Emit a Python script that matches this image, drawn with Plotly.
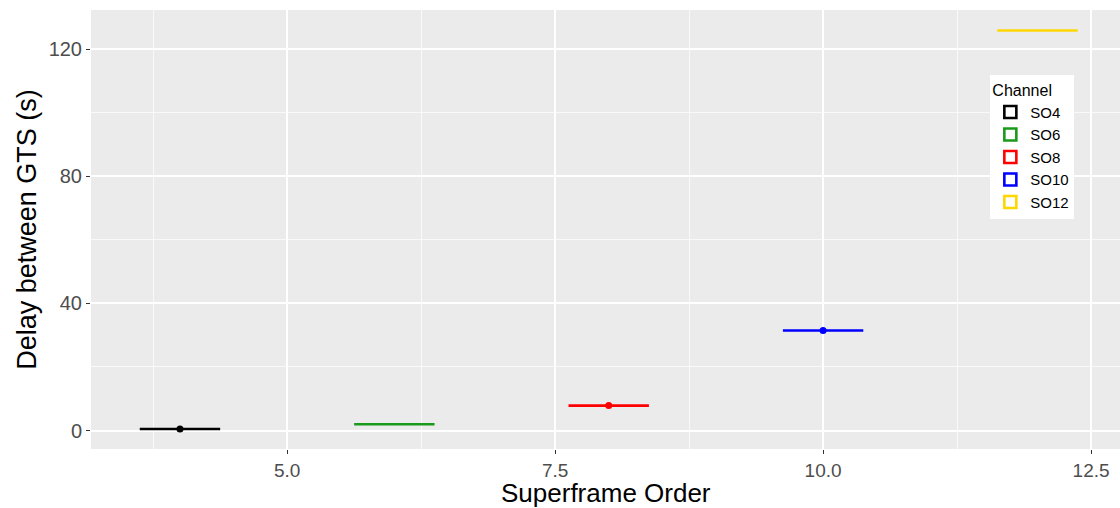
import plotly.graph_objects as go

channels = ["SO4", "SO6", "SO8", "SO10", "SO12"]
orders = [4, 6, 8, 10, 12]
delays = [0.49, 1.97, 7.86, 31.46, 125.83]
colors = ["#000000", "#1A9A1A", "#FF0000", "#0000FF", "#FFD700"]
point_orders = [4, 8, 10]
point_delays = [0.49, 7.86, 31.46]
point_colors = ["#000000", "#FF0000", "#0000FF"]

fig = go.Figure()
for ch, x, v, c in zip(channels, orders, delays, colors):
    fig.add_trace(go.Box(
        name=ch, x=[x], q1=[v], median=[v], q3=[v],
        lowerfence=[v], upperfence=[v], width=0.75,
        line=dict(color=c, width=2.6), fillcolor="rgba(255,255,255,0)",
        boxpoints=False, showlegend=True,
    ))

fig.add_trace(go.Scatter(
    x=point_orders, y=point_delays, mode="markers",
    marker=dict(color=point_colors, size=7), showlegend=False,
    hoverinfo="skip",
))

fig.update_layout(
    width=1120, height=508,
    margin=dict(l=91, r=0, t=10, b=59),
    paper_bgcolor="white", plot_bgcolor="#EBEBEB",
    font=dict(family="Liberation Sans, Arial, sans-serif", color="#000000"),
    showlegend=True,
    legend=dict(
        title=dict(text="Channel", font=dict(size=16, color="#000000")),
        font=dict(size=15, color="#000000"),
        bgcolor="white", x=0.874, y=0.852, xanchor="left", yanchor="top",
        tracegroupgap=0, itemwidth=30,
    ),
    boxmode="overlay",
    annotations=[dict(
        text="Superframe Order", xref="paper", yref="paper", x=0.5, y=0,
        xanchor="center", yanchor="middle", yshift=-44, showarrow=False,
        font=dict(size=26, color="#000000"),
    )],
)
fig.update_xaxes(
    range=[3.17, 12.77], tick0=0, dtick=2.5, tickformat=".1f",
    showgrid=True, gridcolor="white", gridwidth=1.6, zeroline=False,
    minor=dict(showgrid=True, gridcolor="rgba(255,255,255,0.7)", gridwidth=0.7, dtick=1.25, tick0=0),
    ticks="outside", ticklen=4, tickcolor="#333333", tickwidth=1,
    tickfont=dict(size=19, color="#4D4D4D"), ticklabeloverflow="allow",
    showline=False, automargin=False,
)
fig.update_yaxes(
    range=[-5.8, 132.3], tick0=0, dtick=40,
    showgrid=True, gridcolor="white", gridwidth=1.6, zeroline=False,
    minor=dict(showgrid=True, gridcolor="rgba(255,255,255,0.7)", gridwidth=0.7, dtick=20, tick0=0),
    ticks="outside", ticklen=4, tickcolor="#333333", tickwidth=1,
    tickfont=dict(size=20, color="#4D4D4D"),
    title=dict(text="Delay between GTS (s)", font=dict(size=27, color="#000000"), standoff=4),
    showline=False, automargin=False,
)

fig.write_html(
    "out.html",
    config={"displayModeBar": False},
    post_script="document.body.style.margin='0';document.body.style.overflow='hidden';",
)
